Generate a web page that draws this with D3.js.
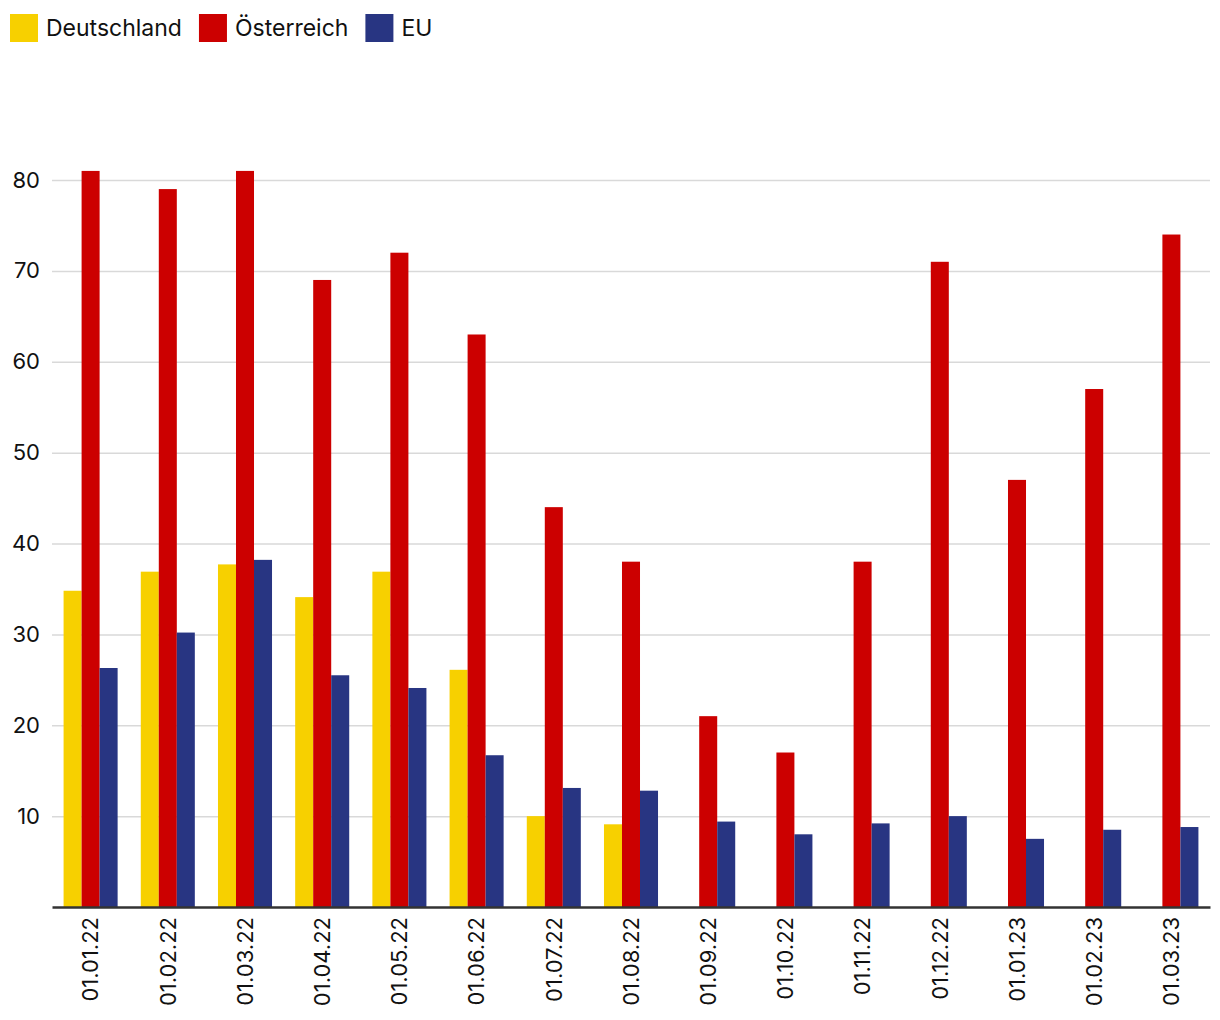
<!DOCTYPE html>
<html><head><meta charset="utf-8">
<script src="https://cdn.jsdelivr.net/npm/d3@7"></script>
<style>body{margin:0;background:#fff;font-family:Inter,"Noto Sans",sans-serif;}</style>
</head><body><svg id="c" width="1220" height="1020"></svg>
<script>
const categories = ["01.01.22","01.02.22","01.03.22","01.04.22","01.05.22","01.06.22","01.07.22","01.08.22","01.09.22","01.10.22","01.11.22","01.12.22","01.01.23","01.02.23","01.03.23"];
const seriesNames = ["Deutschland","Österreich","EU"];
const deutschland = [34.8,36.9,37.7,34.1,36.9,26.1,10.0,9.1,null,null,null,null,null,null,null];
const oesterreich = [81,79,81,69,72,63,44,38,21,17,38,71,47,57,74];
const eu = [26.3,30.2,38.2,25.5,24.1,16.7,13.1,12.8,9.4,8.0,9.2,10.0,7.5,8.5,8.8];
const colors = ["#f7d000","#cc0000","#283582"];
const yTicks = [10,20,30,40,50,60,70,80];

(function(){
const series = [deutschland, oesterreich, eu];
const svg = d3.select("#c");
const mLeft = 52, mRight = 1210, mBottom = 907;
const y = d3.scaleLinear().domain([0,80]).range([mBottom,180]);
const x = d3.scaleBand().domain(categories).range([mLeft,mRight]).paddingInner(0.3).paddingOuter(0.15);
const xs = d3.scaleBand().domain(seriesNames).range([0,x.bandwidth()]);

const yAxis = d3.axisLeft(y).tickValues(yTicks).tickSize(-(mRight-mLeft)).tickPadding(12);
const gy = svg.append("g").attr("transform",`translate(${mLeft},0)`).call(yAxis);
gy.select(".domain").remove();
gy.selectAll(".tick line").attr("stroke","#d9d9d9").attr("stroke-width",1.5);
gy.selectAll(".tick text").attr("font-size",22).attr("fill","#111").style("font-family","Inter,'Noto Sans',sans-serif");

const g = svg.append("g");
categories.forEach((c,i)=>{
  series.forEach((s,j)=>{
    const v = s[i];
    if (v==null) return;
    g.append("rect").attr("x",x(c)+xs(seriesNames[j])).attr("width",xs.bandwidth())
      .attr("y",y(v)).attr("height",y(0)-y(v)).attr("fill",colors[j]);
  });
});

const xAxis = d3.axisBottom(x).tickSize(0).tickPadding(10);
const gx = svg.append("g").attr("transform",`translate(0,${mBottom})`).call(xAxis);
gx.select(".domain").attr("stroke","#333").attr("stroke-width",2.5);
gx.selectAll(".tick text").attr("font-size",22).attr("fill","#111")
  .style("font-family","Inter,'Noto Sans',sans-serif")
  .attr("transform","rotate(-90)").attr("text-anchor","end")
  .attr("x",-10).attr("y",0).attr("dy","0.35em");

const leg = svg.append("g");
let lx = 10;
seriesNames.forEach((n,j)=>{
  leg.append("rect").attr("x",lx).attr("y",14).attr("width",28).attr("height",28).attr("fill",colors[j]);
  const t = leg.append("text").attr("x",lx+36).attr("y",28).attr("dy","0.35em").attr("font-size",23).attr("fill","#111").text(n);
  lx += 36 + t.node().getComputedTextLength() + 17;
});
})();
</script></body></html>
